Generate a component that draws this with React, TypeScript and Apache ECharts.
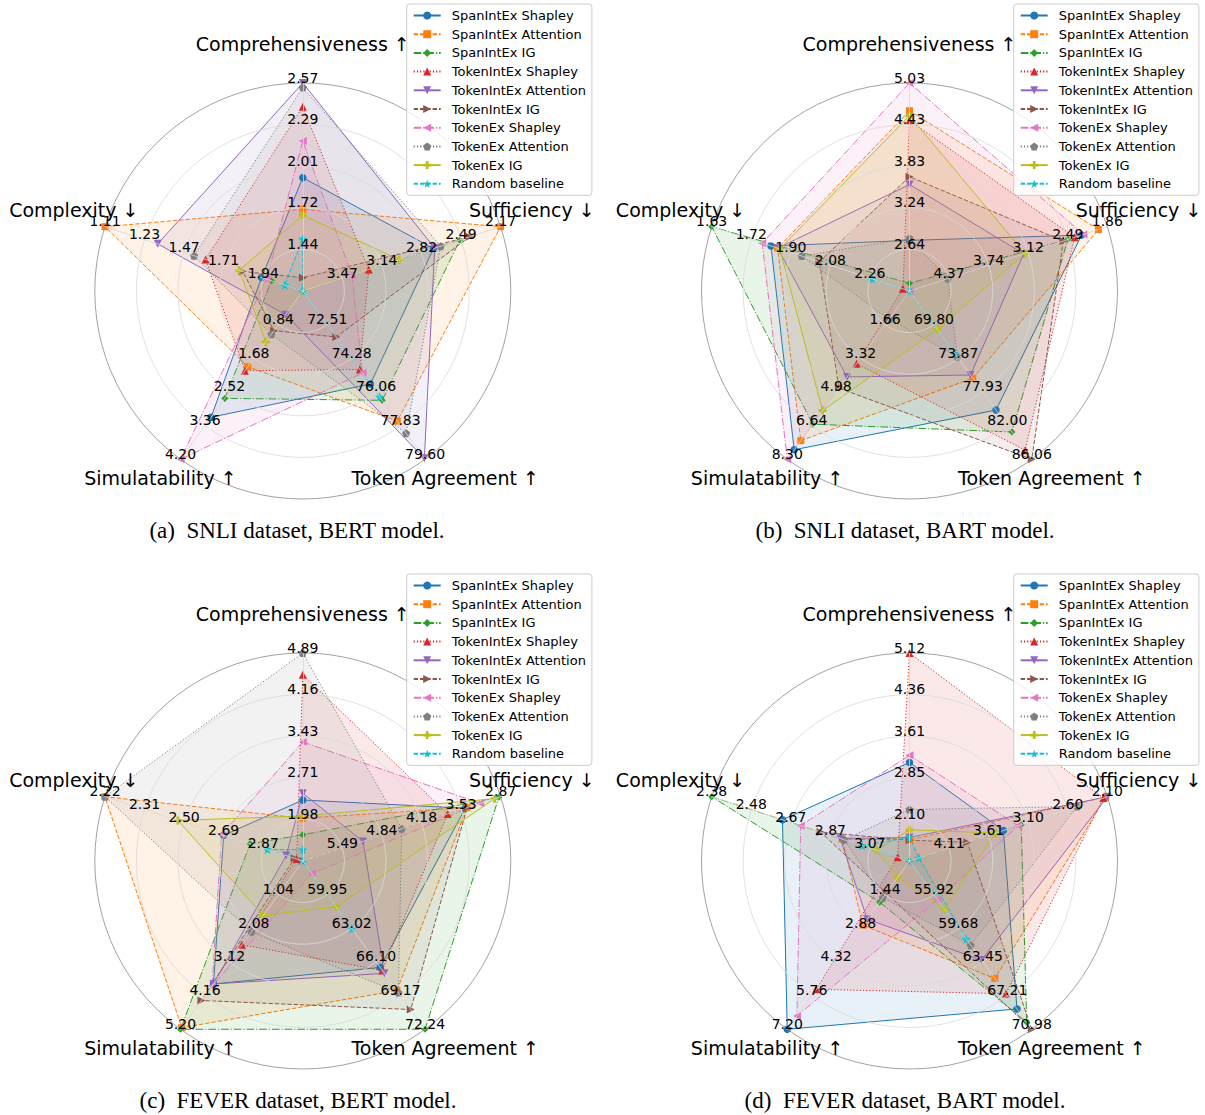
import React, { useEffect, useRef } from "react";
import * as echarts from "echarts";

// ---------- series definitions ----------
const seriesNames = [
  "SpanIntEx Shapley",
  "SpanIntEx Attention",
  "SpanIntEx IG",
  "TokenIntEx Shapley",
  "TokenIntEx Attention",
  "TokenIntEx IG",
  "TokenEx Shapley",
  "TokenEx Attention",
  "TokenEx IG",
  "Random baseline",
];
const seriesColors = ["#1f77b4", "#ff7f0e", "#2ca02c", "#d62728", "#9467bd", "#8c564b", "#e377c2", "#7f7f7f", "#bcbd22", "#17becf"];
const DASHED = [4.4, 1.9];
const DASHDOT = [7.7, 1.9, 1.2, 1.9];
const DOTTED = [1.2, 2];
const seriesDash: any[] = ["solid", DASHED, DASHDOT, DOTTED, "solid", DASHED, DASHDOT, DOTTED, "solid", DASHED];
const seriesSymbols = [
  "circle",
  "rect",
  "diamond",
  "triangle",
  "path://M0,0L10,0L5,8.66Z",
  "path://M0,0L8.66,5L0,10Z",
  "path://M8.66,0L0,5L8.66,10Z",
  "path://M5,0L9.76,3.45L7.94,9.05L2.06,9.05L0.24,3.45Z",
  "path://M3.3,0H6.7V3.3H10V6.7H6.7V10H3.3V6.7H0V3.3H3.3Z",
  "path://M5,0L6.18,3.38L9.76,3.45L6.9,5.62L7.94,9.05L5,7L2.06,9.05L3.1,5.62L0.24,3.45L3.82,3.38Z",
];
const seriesSymbolSizes = [7.5, 7, 7, 8, 8, 8, 8, 8, 8, 9.5];

// metric order used for the value rows below
const metricNames = ["Comprehensiveness ↑", "Sufficiency ↓", "Token Agreement ↑", "Simulatability ↑", "Complexity ↓"];

// ---------- panel (a): SNLI, BERT ----------
// each tick list: centre value, then the five labelled rings
const ticksA = [
  [1.16, 1.44, 1.72, 2.01, 2.29, 2.57],
  [3.79, 3.47, 3.14, 2.82, 2.49, 2.17],
  [70.74, 72.51, 74.28, 76.06, 77.83, 79.6],
  [0, 0.84, 1.68, 2.52, 3.36, 4.2],
  [2.18, 1.94, 1.71, 1.47, 1.23, 1.11],
];
// rows: [Comprehensiveness, Sufficiency, Token Agreement, Simulatability, Complexity]
const valuesA = [
  [1.93, 2.72, 75.64, 3.15, 1.93],
  [1.71, 2.17, 77.59, 1.89, 1.11],
  [1.16, 2.5, 76.5, 2.68, 1.99],
  [2.41, 3.25, 74.87, 1.99, 1.6],
  [2.57, 2.71, 79.55, 0.59, 1.31],
  [1.25, 2.42, 73.16, 0.99, 1.82],
  [2.18, 3.39, 75.06, 4.2, 1.96],
  [2.54, 2.66, 78.23, 1.08, 1.53],
  [1.67, 3.0, 70.74, 1.27, 1.8],
  [1.51, 3.79, 76.32, 0.0, 2.07],
];

// ---------- panel (b): SNLI, BART ----------
const ticksB = [
  [2.04, 2.64, 3.24, 3.83, 4.43, 5.03],
  [5.0, 4.37, 3.74, 3.12, 2.49, 1.86],
  [65.74, 69.8, 73.87, 77.93, 82.0, 86.06],
  [0, 1.66, 3.32, 4.98, 6.64, 8.3],
  [2.44, 2.26, 2.08, 1.9, 1.72, 1.63],
];
const valuesB = [
  [2.77, 2.27, 80.12, 7.83, 1.81],
  [4.63, 2.0, 76.27, 7.38, 1.84],
  [2.15, 2.49, 82.77, 6.57, 1.63],
  [4.49, 2.38, 84.96, 3.59, 2.41],
  [3.57, 3.19, 75.88, 4.24, 1.84],
  [3.68, 2.56, 86.06, 4.79, 2.03],
  [5.03, 2.24, 65.74, 8.3, 1.77],
  [2.8, 4.39, 73.67, 1.39, 1.95],
  [4.56, 3.17, 70.37, 5.9, 1.85],
  [2.04, 5.0, 73.3, 0.0, 2.27],
];

// ---------- panel (c): FEVER, BERT ----------
const ticksC = [
  [1.25, 1.98, 2.71, 3.43, 4.16, 4.89],
  [6.15, 5.49, 4.84, 4.18, 3.53, 2.87],
  [56.88, 59.95, 63.02, 66.1, 69.17, 72.24],
  [0, 1.04, 2.08, 3.12, 4.16, 5.2],
  [3.06, 2.87, 2.69, 2.5, 2.31, 2.22],
];
const valuesC = [
  [2.32, 3.46, 66.6, 3.8, 2.69],
  [2.0, 3.43, 68.71, 5.15, 2.22],
  [1.71, 2.9, 72.24, 5.2, 2.81],
  [4.51, 3.75, 66.87, 2.59, 3.03],
  [2.44, 5.15, 67.14, 3.8, 2.98],
  [1.25, 3.43, 70.44, 4.31, 3.02],
  [3.33, 3.21, 58.03, 3.86, 2.68],
  [4.89, 4.51, 68.9, 2.19, 2.22],
  [2.04, 2.97, 61.07, 1.68, 2.47],
  [1.45, 6.15, 63.05, 0.0, 2.89],
];

// ---------- panel (d): FEVER, BART ----------
const ticksD = [
  [1.34, 2.1, 2.85, 3.61, 4.36, 5.12],
  [4.61, 4.11, 3.61, 3.1, 2.6, 2.1],
  [52.15, 55.92, 59.68, 63.45, 67.21, 70.98],
  [0, 1.44, 2.88, 4.32, 5.76, 7.2],
  [3.27, 3.07, 2.87, 2.67, 2.48, 2.38],
];
const valuesD = [
  [3.13, 3.42, 68.7, 7.2, 2.63],
  [1.73, 2.12, 65.3, 2.75, 2.93],
  [1.34, 3.19, 70.2, 1.76, 2.38],
  [5.12, 2.15, 67.0, 5.49, 3.21],
  [1.77, 2.1, 63.24, 2.49, 2.92],
  [1.72, 3.88, 70.98, 1.37, 2.82],
  [3.26, 3.23, 56.49, 6.63, 2.72],
  [2.28, 2.48, 61.57, 1.57, 2.94],
  [1.91, 3.52, 57.53, 0.69, 3.1],
  [1.77, 4.49, 60.89, 0.0, 3.03],
];

const captions = [
  "(a)\u2002SNLI dataset, BERT model.",
  "(b)\u2002SNLI dataset, BART model.",
  "(c)\u2002FEVER dataset, BERT model.",
  "(d)\u2002FEVER dataset, BART model.",
];

// ---------- layout ----------
const panels = [
  { ticks: ticksA, values: valuesA, cx: 302.8, cy: 291, capX: 297, capY: 530, legX: 406.7, legY: 4 },
  { ticks: ticksB, values: valuesB, cx: 909.5, cy: 291, capX: 905, capY: 530, legX: 1013.7, legY: 4 },
  { ticks: ticksC, values: valuesC, cx: 302.8, cy: 861, capX: 298, capY: 1100, legX: 406.7, legY: 574 },
  { ticks: ticksD, values: valuesD, cx: 909.5, cy: 861, capX: 905, capY: 1100, legX: 1013.7, legY: 574 },
];
const RADIUS = 208;
// ECharts lays radar indicators out counter-clockwise from the top
const radarOrder = [0, 4, 3, 2, 1];
// metric title offsets from the radar centre (text centre)
const titleOffsets = [
  [0, -247],
  [229, -81],
  [142.4, 187.3],
  [-142.4, 187.3],
  [-229, -81],
];

// position of a value on the ring scale 0..5 (piecewise through the tick list)
function ringPos(v: number, t: number[]): number {
  for (let k = 0; k < 5; k++) {
    const a = t[k];
    const b = t[k + 1];
    if ((v - a) * (v - b) <= 0) return k + (v - a) / (b - a);
  }
  const dir = t[5] - t[0];
  if ((v - t[0]) * dir < 0) return 0;
  return 5;
}

function buildOption() {
  const radar: any[] = [];
  const series: any[] = [];
  const legend: any[] = [];
  const graphic: any[] = [];

  // legend-only line series (give the legend line + marker icons)
  seriesNames.forEach((n, s) => {
    series.push({
      type: "line",
      name: n,
      xAxisIndex: 0,
      yAxisIndex: 0,
      data: [],
      symbol: seriesSymbols[s],
      color: seriesColors[s],
      itemStyle: { color: seriesColors[s] },
      lineStyle: { color: seriesColors[s], width: 1.2, type: seriesDash[s] },
    });
  });

  panels.forEach((p, i) => {
    radar.push({
      center: [p.cx, p.cy],
      radius: RADIUS,
      startAngle: 90,
      shape: "circle",
      splitNumber: 5,
      z: 3,
      axisName: { show: false },
      splitLine: {
        lineStyle: { color: ["#d9d9d9", "#d9d9d9", "#d9d9d9", "#d9d9d9", "#d9d9d9", "#8a8a8a"], width: 0.8 },
      },
      splitArea: { show: false },
      axisLine: { show: true, lineStyle: { color: "#d9d9d9", width: 0.8 } },
      axisTick: { show: false },
      axisLabel: {
        show: true,
        margin: 0,
        color: "#000",
        fontSize: 14,
        fontFamily: "DejaVu Sans",
        align: "center",
        verticalAlign: "bottom",
        lineHeight: 11,
      },
      indicator: radarOrder.map((m) => ({
        name: metricNames[m],
        min: 0,
        max: 5,
        axisLabel: {
          formatter: (val: number) => {
            const k = Math.round(val);
            return k <= 0 ? "" : p.ticks[m][k].toFixed(2);
          },
        },
      })),
    });

    p.values.forEach((row, s) => {
      series.push({
        type: "radar",
        radarIndex: i,
        name: seriesNames[s],
        symbol: seriesSymbols[s],
        symbolSize: seriesSymbolSizes[s],
        color: seriesColors[s],
        z: 2,
        itemStyle: { color: seriesColors[s] },
        lineStyle: { color: seriesColors[s], width: 1, type: seriesDash[s] },
        areaStyle: { color: seriesColors[s], opacity: 0.1 },
        data: [{ value: radarOrder.map((m) => ringPos(row[m], p.ticks[m])), name: seriesNames[s] }],
      });
    });

    legend.push({
      data: seriesNames,
      orient: "vertical",
      left: p.legX,
      top: p.legY,
      itemWidth: 27,
      itemHeight: 10,
      itemGap: 5.7,
      padding: [5, 6, 5, 6],
      backgroundColor: "rgba(255,255,255,0.8)",
      borderColor: "#cccccc",
      borderWidth: 1,
      borderRadius: 3,
      z: 10,
      textStyle: { color: "#000", fontSize: 13, fontFamily: "DejaVu Sans", lineHeight: 13, padding: [0, 0, 0, 6] },
    });

    metricNames.forEach((name, m) => {
      graphic.push({
        type: "text",
        x: p.cx + titleOffsets[m][0],
        y: p.cy + titleOffsets[m][1],
        z: 5,
        style: {
          text: name,
          align: "center",
          verticalAlign: "middle",
          fontFamily: "DejaVu Sans",
          fontSize: 19,
          fill: "#000",
        },
      });
    });

    graphic.push({
      type: "text",
      x: p.capX,
      y: p.capY,
      style: {
        text: captions[i],
        align: "center",
        verticalAlign: "middle",
        fontFamily: "Liberation Serif",
        fontSize: 23,
        fill: "#000",
      },
    });
  });

  return {
    animation: false,
    backgroundColor: "#fff",
    grid: { left: -200, top: -200, width: 10, height: 10, show: false },
    xAxis: { type: "value", show: false },
    yAxis: { type: "value", show: false },
    radar,
    legend,
    series,
    graphic,
  };
}

export default function App() {
  const ref = useRef<HTMLDivElement>(null);
  useEffect(() => {
    document.body.style.margin = "0";
    if (!ref.current) return;
    const chart = echarts.init(ref.current, null, { renderer: "svg" });
    chart.setOption(buildOption() as any);
    return () => chart.dispose();
  }, []);
  return <div ref={ref} style={{ width: 1205, height: 1115 }} />;
}
